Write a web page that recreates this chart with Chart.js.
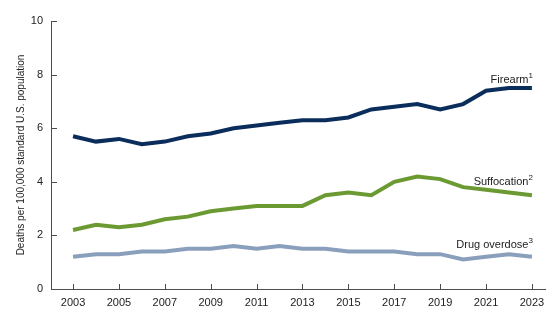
<!DOCTYPE html>
<html>
<head>
<meta charset="utf-8">
<script src="https://cdn.jsdelivr.net/npm/chart.js@4"></script>
<style>
  html, body { margin: 0; padding: 0; background: #fff; }
  #wrap { width: 560px; height: 321px; position: relative; }
</style>
</head>
<body>
<div id="wrap"><canvas id="chart"></canvas></div>
<script>
// Data
const years = [2003, 2004, 2005, 2006, 2007, 2008, 2009, 2010, 2011, 2012, 2013,
  2014, 2015, 2016, 2017, 2018, 2019, 2020, 2021, 2022, 2023];
const firearm = [5.7, 5.5, 5.6, 5.4, 5.5, 5.7, 5.8, 6.0, 6.1, 6.2, 6.3,
  6.3, 6.4, 6.7, 6.8, 6.9, 6.7, 6.9, 7.4, 7.5, 7.5];
const suffocation = [2.2, 2.4, 2.3, 2.4, 2.6, 2.7, 2.9, 3.0, 3.1, 3.1, 3.1,
  3.5, 3.6, 3.5, 4.0, 4.2, 4.1, 3.8, 3.7, 3.6, 3.5];
const drugOverdose = [1.2, 1.3, 1.3, 1.4, 1.4, 1.5, 1.5, 1.6, 1.5, 1.6, 1.5,
  1.5, 1.4, 1.4, 1.4, 1.3, 1.3, 1.1, 1.2, 1.3, 1.2];
const xTickYears = [2003, 2005, 2007, 2009, 2011, 2013, 2015, 2017, 2019, 2021, 2023];
const yTicks = [0, 2, 4, 6, 8, 10];
const seriesNames = ["Firearm", "Suffocation", "Drug overdose"];
const footnotes = ["1", "2", "3"];

const FONT = "'Liberation Sans', Arial, sans-serif";
const AXIS_COLOR = "#4d4d4d";

function toPoints(values) {
  return values.map((v, i) => ({ x: years[i], y: v }));
}

// labels at the end of each line + inward tick marks
const decorations = {
  id: "decorations",
  afterDraw(chart) {
    const c = chart.ctx;
    const xs = chart.scales.x;
    const ys = chart.scales.y;
    const area = chart.chartArea;

    c.save();
    c.strokeStyle = AXIS_COLOR;
    c.lineWidth = 1;
    xTickYears.forEach(yr => {
      const px = Math.round(xs.getPixelForValue(yr)) + 0.5;
      c.beginPath();
      c.moveTo(px, area.bottom);
      c.lineTo(px, area.bottom - 5);
      c.stroke();
    });
    yTicks.forEach(t => {
      const py = Math.round(ys.getPixelForValue(t)) + 0.5;
      c.beginPath();
      c.moveTo(area.left, py);
      c.lineTo(area.left + 6, py);
      c.stroke();
    });

    const lift = [8, 13, 12];
    chart.data.datasets.forEach((ds, i) => {
      const meta = chart.getDatasetMeta(i);
      const last = meta.data[meta.data.length - 1];
      const right = last.x + 1;
      const baseY = last.y - lift[i];
      c.fillStyle = "#222";
      c.textBaseline = "middle";
      c.textAlign = "right";
      c.font = "8px " + FONT;
      const supW = c.measureText(footnotes[i]).width;
      c.fillText(footnotes[i], right, baseY - 4);
      c.font = "11px " + FONT;
      c.fillText(seriesNames[i], right - supW, baseY);
    });
    c.restore();
  }
};

new Chart(document.getElementById("chart"), {
  type: "line",
  data: {
    datasets: [
      { label: seriesNames[0], data: toPoints(firearm), borderColor: "#0b2d5c" },
      { label: seriesNames[1], data: toPoints(suffocation), borderColor: "#6b9a32" },
      { label: seriesNames[2], data: toPoints(drugOverdose), borderColor: "#8a9fbc" }
    ]
  },
  options: {
    responsive: true,
    maintainAspectRatio: false,
    animation: false,
    layout: { padding: { top: 21, right: 15, left: 0, bottom: 0 } },
    elements: {
      line: { borderWidth: 4, tension: 0, borderCapStyle: "butt", borderJoinStyle: "miter" },
      point: { radius: 0, hoverRadius: 0 }
    },
    plugins: {
      legend: { display: false },
      tooltip: { enabled: false }
    },
    scales: {
      x: {
        type: "linear",
        min: 2002.04,
        max: 2023.57,
        afterBuildTicks: s => { s.ticks = xTickYears.map(v => ({ value: v })); },
        afterFit: s => { s.height = 32; },
        grid: { display: false, drawTicks: false },
        border: { display: true, color: AXIS_COLOR, width: 1 },
        ticks: {
          padding: 7,
          color: "#222",
          font: { family: FONT, size: 11 },
          maxRotation: 0,
          autoSkip: false,
          callback: v => String(v)
        }
      },
      y: {
        min: 0,
        max: 10,
        afterBuildTicks: s => { s.ticks = yTicks.map(v => ({ value: v })); },
        afterFit: s => { s.width = 51; },
        grid: { display: false, drawTicks: false },
        border: { display: true, color: AXIS_COLOR, width: 1 },
        ticks: {
          padding: 8,
          color: "#222",
          font: { family: FONT, size: 11 }
        },
        title: {
          display: true,
          text: "Deaths per 100,000 standard U.S. population",
          color: "#222",
          font: { family: FONT, size: 10 },
          padding: { top: 15, bottom: 0 }
        }
      }
    }
  },
  plugins: [decorations]
});
</script>
</body>
</html>
